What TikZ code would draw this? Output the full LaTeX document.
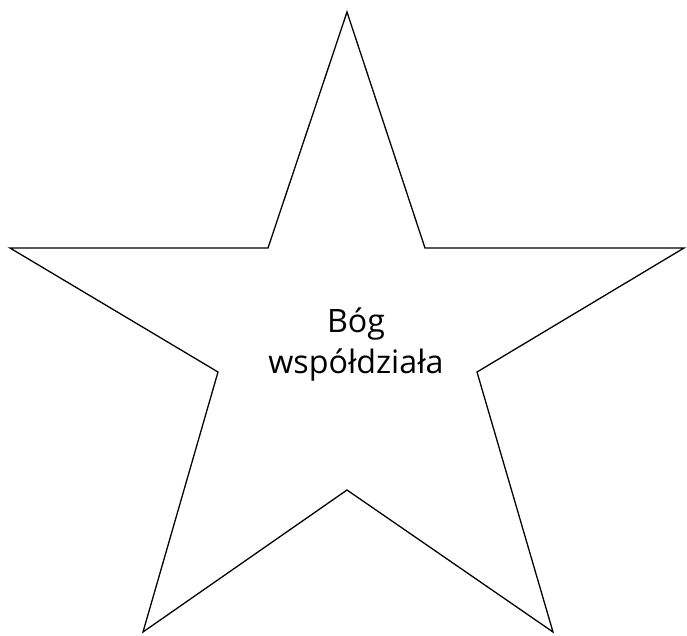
\documentclass[tikz,border=0pt]{standalone}
\usepackage{fontspec}
\setmainfont{Open Sans}
\usetikzlibrary{positioning}

\begin{document}
\begin{tikzpicture}[
    x=0.03cm, y=-0.03cm,
    outline/.style={draw, line width=1.1pt, line join=miter},
    label/.style={align=center, font=\fontsize{27.5}{35}\selectfont, inner sep=0pt},
]

\useasboundingbox (0,0) rectangle (687,636);

% Star points
\coordinate (top) at (347,12);
\coordinate (ul) at (268,248);
\coordinate (left) at (10,248);
\coordinate (ll) at (218,372);
\coordinate (bl) at (143,632);
\coordinate (bot) at (347,490);
\coordinate (br) at (553,632);
\coordinate (lr) at (477,372);
\coordinate (right) at (684,248);
\coordinate (ur) at (425,248);

\draw[outline] (top) -- (ul) -- (left) -- (ll) -- (bl) -- (bot) -- (br) -- (lr) -- (right) -- (ur) -- cycle;

% Text
\node[label] (txt) at (356,345) {Bóg\\współdziała};

\end{tikzpicture}
\end{document}
